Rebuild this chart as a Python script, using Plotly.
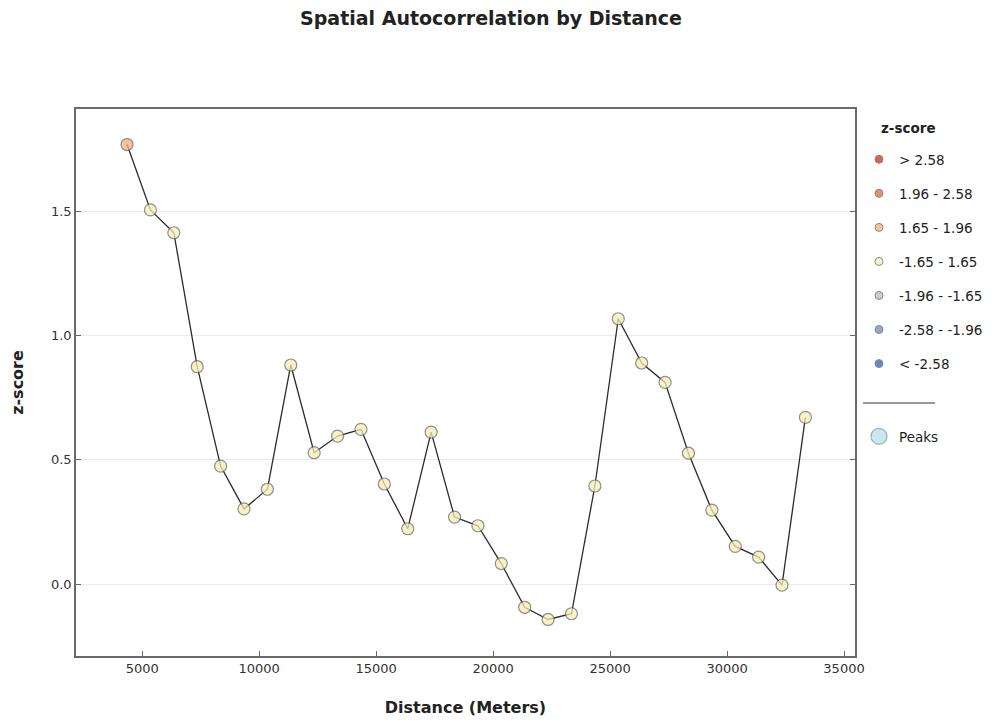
import plotly.graph_objects as go

# ---- data ----
distance = [4350, 5350, 6350, 7350, 8350, 9350, 10350, 11350, 12350, 13350,
            14350, 15350, 16350, 17350, 18350, 19350, 20350, 21350, 22350, 23350,
            24350, 25350, 26350, 27350, 28350, 29350, 30350, 31350, 32350, 33350]
zscore = [1.769, 1.506, 1.414, 0.875, 0.475, 0.303, 0.382, 0.882, 0.529, 0.596,
          0.623, 0.403, 0.223, 0.612, 0.270, 0.235, 0.083, -0.093, -0.142, -0.119,
          0.395, 1.068, 0.890, 0.812, 0.527, 0.298, 0.152, 0.109, -0.004, 0.671]

bin_labels = ["> 2.58", "1.96 - 2.58", "1.65 - 1.96", "-1.65 - 1.65",
              "-1.96 - -1.65", "-2.58 - -1.96", "< -2.58"]
bin_low = [2.58, 1.96, 1.65, -1.65, -1.96, -2.58, -1e9]
bin_high = [1e9, 2.58, 1.96, 1.65, -1.65, -1.96, -2.58]
bin_colors = ["#d9634f", "#ee8a6c", "#f8c39c", "#f6f4c6",
              "#c5d1c6", "#94a9c6", "#6688c6"]
# slightly stronger fills for the semi-transparent data markers
bin_colors_data = ["#d04a33", "#ea7350", "#f6af7b", "#f3f0b3",
                   "#b5c4b6", "#7a93b6", "#4470b6"]

x_ticks = [5000, 10000, 15000, 20000, 25000, 30000, 35000]
y_ticks = [0.0, 0.5, 1.0, 1.5]

FONT = "DejaVu Sans"

# figure-pixel layout (page has an ~8px body offset)
L, R, T, B = 68, 146, 101, 73
W, H = 993, 721
PW, PH = W - L - R, H - T - B


def px_x(fx):
    return (fx - L) / PW


def px_y(fy):
    return 1 - (fy - T) / PH


fig = go.Figure()

# connecting line
fig.add_trace(go.Scatter(x=distance, y=zscore, mode="lines",
                         line=dict(color="#2b2b2b", width=1.3),
                         showlegend=False, hoverinfo="skip"))

# markers by bin (data)
for lab, lo, hi, col in zip(bin_labels, bin_low, bin_high, bin_colors_data):
    xs = [d for d, z in zip(distance, zscore) if lo <= z < hi]
    ys = [z for z in zscore if lo <= z < hi]
    if xs:
        fig.add_trace(go.Scatter(
            x=xs, y=ys, mode="markers", name=lab, showlegend=False,
            marker=dict(size=12, color=col, opacity=0.75,
                        line=dict(color="#6a6a6a", width=1.2))))

# legend entries (small symbols)
for lab, col in zip(bin_labels, bin_colors):
    fig.add_trace(go.Scatter(
        x=[None], y=[None], mode="markers", name=lab, legendgroup=lab,
        marker=dict(size=8, color=col, line=dict(color="#8a8a8a", width=1)),
        legend="legend"))

# peaks (legend only)
fig.add_trace(go.Scatter(x=[None], y=[None], mode="markers", name="Peaks",
                         marker=dict(size=18, color="#c9e7ef",
                                     line=dict(color="#9ab0b6", width=1.2)),
                         legend="legend2"))

axis_common = dict(showline=True, linecolor="#6a6a6a", linewidth=1.5,
                   ticks="inside", ticklen=5, tickcolor="#6a6a6a", tickwidth=1,
                   tickfont=dict(family=FONT, size=13, color="#333333"),
                   zeroline=False, automargin=False)

fig.update_xaxes(range=[2168, 35470], tickvals=x_ticks,
                 ticktext=[str(v) for v in x_ticks], showgrid=False, mirror=True,
                 title=dict(text="<b>Distance (Meters)</b>", standoff=26,
                            font=dict(family=FONT, size=16, color="#222222")),
                 **axis_common)
fig.update_yaxes(range=[-0.289, 1.912], tickvals=y_ticks,
                 ticktext=["%.1f" % v for v in y_ticks], showgrid=True,
                 gridcolor="#ebebeb", gridwidth=1, mirror="ticks",
                 title=dict(text="<b>z-score</b>", standoff=26,
                            font=dict(family=FONT, size=16, color="#222222")),
                 **axis_common)

sep_y = px_y(395)
fig.update_layout(
    width=W, height=H,
    margin=dict(l=L, r=R, t=T, b=B, pad=0, autoexpand=False),
    paper_bgcolor="white", plot_bgcolor="white",
    title=dict(text="<b>Spatial Autocorrelation by Distance</b>", x=483 / W,
               xanchor="center", y=1 - 10 / H, yanchor="middle",
               font=dict(family=FONT, size=19, color="#222222")),
    font=dict(family=FONT, size=13, color="#222222"),
    legend=dict(x=px_x(851), xanchor="left", y=px_y(136), yanchor="top",
                tracegroupgap=13.5, itemsizing="trace",
                font=dict(family=FONT, size=13.5, color="#222222"),
                bgcolor="rgba(0,0,0,0)"),
    legend2=dict(x=px_x(851), xanchor="left", y=px_y(413), yanchor="top",
                 font=dict(family=FONT, size=13.5, color="#222222"),
                 itemsizing="trace", bgcolor="rgba(0,0,0,0)"),
    annotations=[dict(text="<b>z-score</b>", xref="paper", yref="paper",
                      x=px_x(871), y=px_y(120), xanchor="left", yanchor="middle",
                      showarrow=False,
                      font=dict(family=FONT, size=13.5, color="#222222"))],
    shapes=[dict(type="line", xref="paper", yref="paper",
                 x0=px_x(855), x1=px_x(927), y0=sep_y, y1=sep_y,
                 line=dict(color="#333333", width=1))],
    showlegend=True,
)

fig.write_html("out.html")
